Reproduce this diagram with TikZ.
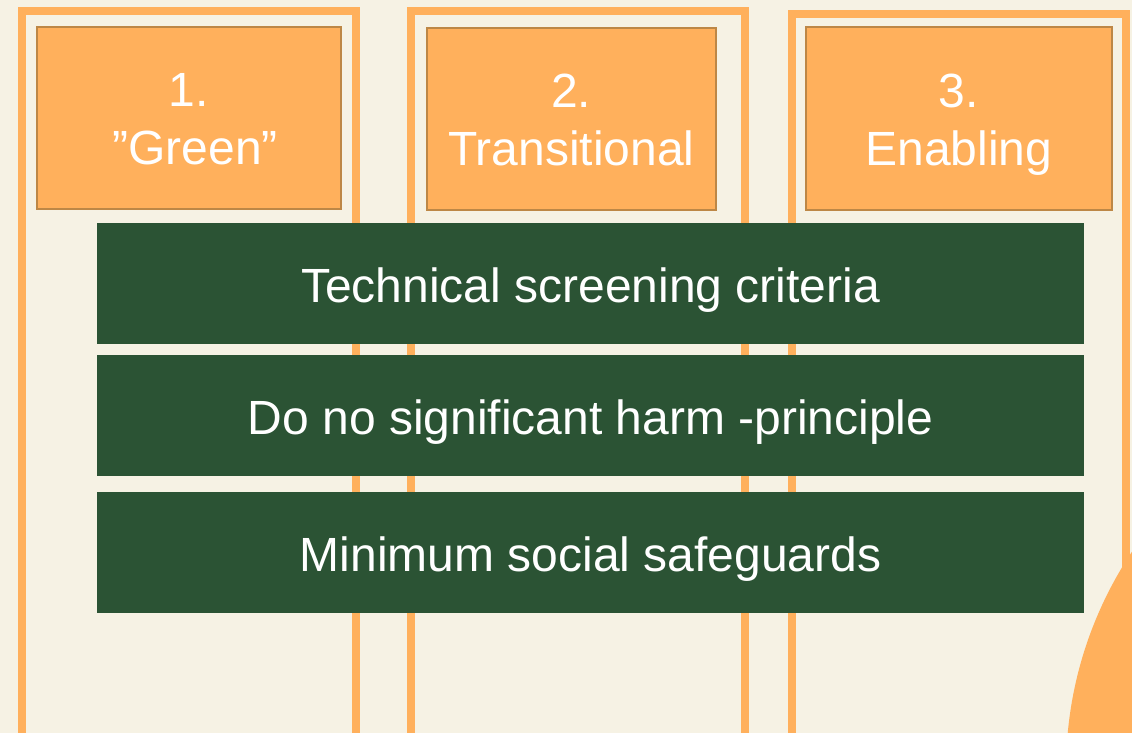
\documentclass[tikz,border=0pt]{standalone}
\usepackage{fontspec}
\setmainfont{Liberation Sans}
\usepackage{tikz}
\usetikzlibrary{positioning}

\definecolor{cream}{HTML}{F6F2E4}
\definecolor{tanorange}{HTML}{FFB05C}
\definecolor{tanedge}{HTML}{BD8746}
\definecolor{forest}{HTML}{2B5334}

\tikzset{
  frame/.style={draw=tanorange, line width=8pt},
  catbox/.style={draw=tanedge, line width=2pt, fill=tanorange, text=white,
    align=center, inner sep=0pt, minimum height=182pt,
    text height=93pt, text depth=0pt,
    font=\fontsize{48}{58}\selectfont},
  critbar/.style={fill=forest, text=white, inner sep=0pt,
    minimum width=987pt, minimum height=121pt,
    text height=38pt, text depth=0pt,
    font=\fontsize{48}{58}\selectfont}
}

\begin{document}
\begin{tikzpicture}[x=1pt, y=-1pt]
  \fill[cream] (0,0) rectangle (1132,733);
  \useasboundingbox (0,0) rectangle (1132,733);
  \clip (0,0) rectangle (1132,733);
  % column frames
  \foreach \l/\t/\r in {22/11/356, 410.5/11.3/745, 792/14.5/1126}
    \draw[frame] (\l,\t) rectangle (\r,760);
  \fill[tanorange] (1460,770) circle (394);
  % categories
  \node[catbox, minimum width=304pt] (g1) at (189,118) {1.\\\hspace*{12pt}”Green”};
  \node[catbox, minimum width=289pt] (g2) at (571.3,119) {2.\\Transitional};
  \node[catbox, minimum width=306pt] (g3) at (958.7,118.5) {3.\\Enabling};
  % criteria
  \node[critbar] (c1) at (590.5,283.5) {Technical screening criteria};
  \node[critbar] (c2) at (590.5,415.5) {Do no significant harm -principle};
  \node[critbar] (c3) at (590.5,552) {Minimum social safeguards};
\end{tikzpicture}
\end{document}
